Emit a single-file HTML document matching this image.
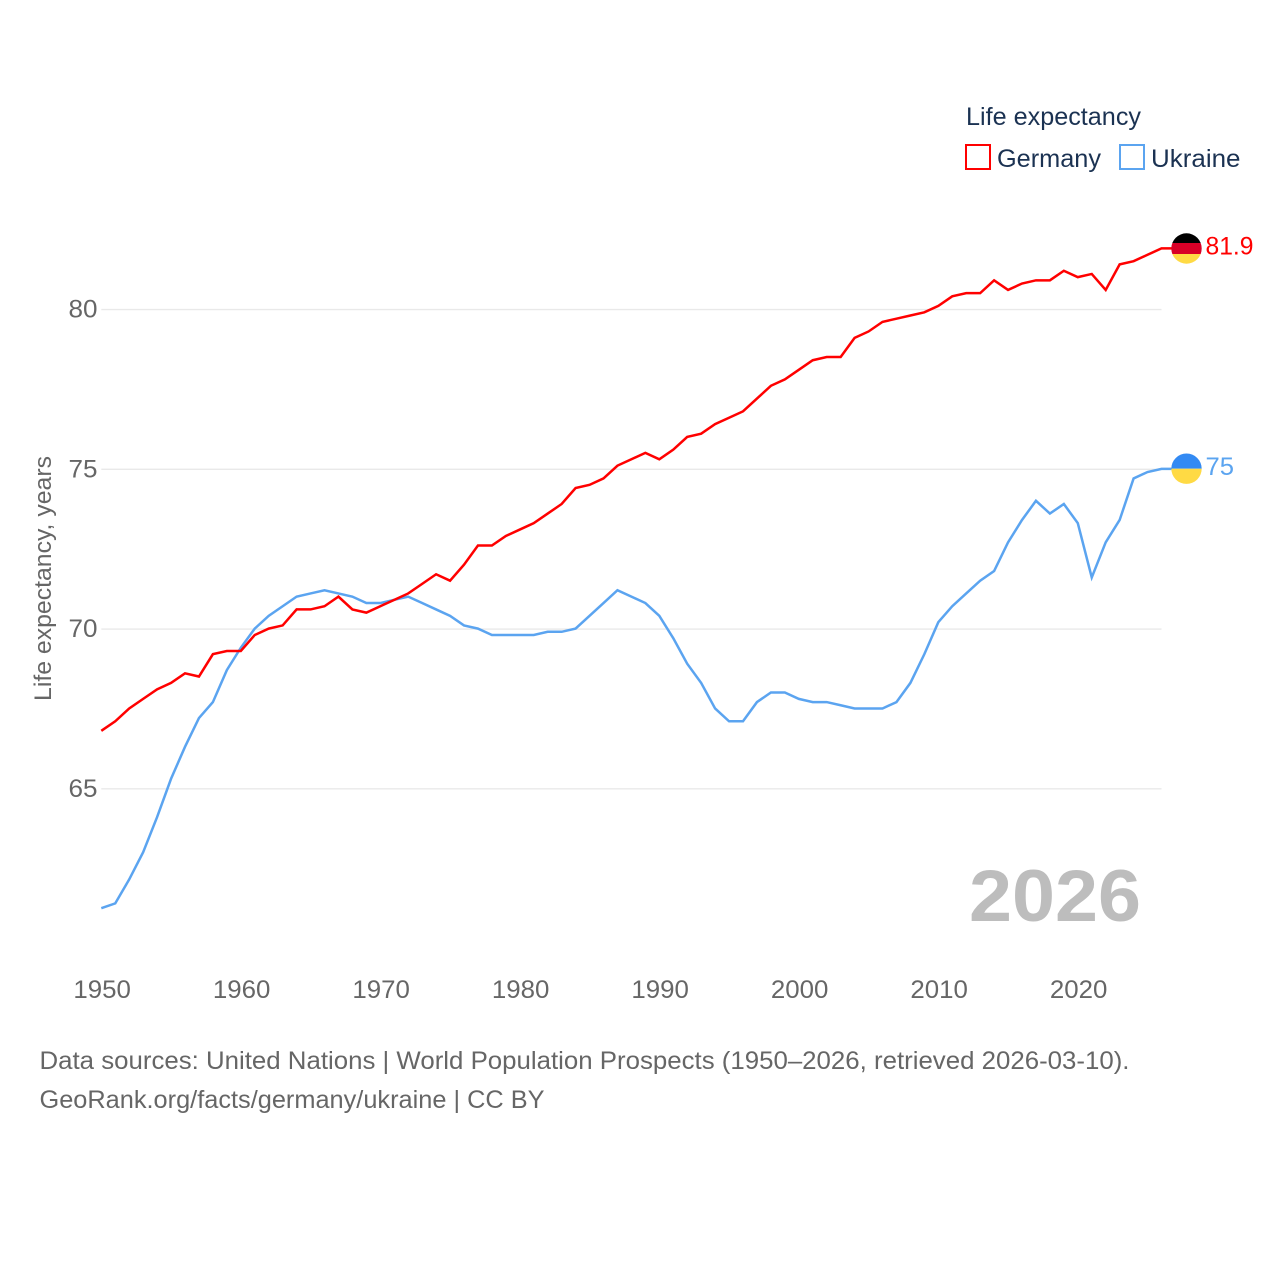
<!DOCTYPE html>
<html lang="en">
<head>
<meta charset="utf-8">
<title>Life expectancy: Germany and Ukraine</title>
<style>
html,body{margin:0;padding:0;background:#fff;width:1280px;height:1280px;overflow:hidden}
svg{display:block}
text{font-family:"Liberation Sans",sans-serif}
</style>
</head>
<body>
<svg id="chart" xmlns="http://www.w3.org/2000/svg" width="1280" height="1280" viewBox="0 0 1280 1280">
  <rect x="0" y="0" width="1280" height="1280" fill="#fff"/>
  <g id="grid"></g>
  <g id="yticks"></g>
  <g id="xticks"></g>
  <text transform="translate(51,578.5) rotate(-90)" text-anchor="middle" font-size="24.5" fill="#666" textLength="245" lengthAdjust="spacingAndGlyphs">Life expectancy, years</text>
  <text x="969" y="921" font-size="73" font-weight="bold" fill="#bdbdbd" textLength="172" lengthAdjust="spacingAndGlyphs">2026</text>
  <g id="series"></g>

  <g>
    <clipPath id="flag-de-clip"><circle cx="1186.5" cy="248.5" r="15.2"/></clipPath>
    <g clip-path="url(#flag-de-clip)">
      <rect x="1170" y="232" width="33" height="11" fill="#000"/>
      <rect x="1170" y="243" width="33" height="11" fill="#d80027"/>
      <rect x="1170" y="254" width="33" height="11" fill="#ffda44"/>
    </g>
  </g>
  <text x="1205.5" y="254.5" font-size="25" fill="#ff0000" textLength="48" lengthAdjust="spacingAndGlyphs">81.9</text>

  <g>
    <clipPath id="flag-ua-clip"><circle cx="1186.5" cy="468.7" r="15.2"/></clipPath>
    <g clip-path="url(#flag-ua-clip)">
      <rect x="1170" y="452" width="33" height="16.7" fill="#338af3"/>
      <rect x="1170" y="468.7" width="33" height="16.7" fill="#ffda44"/>
    </g>
  </g>
  <text x="1205.5" y="475" font-size="25" fill="#5ba4f0" textLength="28.5" lengthAdjust="spacingAndGlyphs">75</text>

  <g>
    <text x="966" y="125" font-size="25" fill="#1b3252" textLength="175" lengthAdjust="spacingAndGlyphs">Life expectancy</text>
    <g>
      <rect x="966" y="145" width="24" height="24" fill="#fff" stroke="#ff0000" stroke-width="2"/>
      <text x="997" y="167" font-size="25" fill="#1b3252" textLength="104" lengthAdjust="spacingAndGlyphs">Germany</text>
    </g>
    <g>
      <rect x="1120" y="145" width="24" height="24" fill="#fff" stroke="#5ba4f0" stroke-width="2"/>
      <text x="1151" y="167" font-size="25" fill="#1b3252" textLength="89.5" lengthAdjust="spacingAndGlyphs">Ukraine</text>
    </g>
  </g>

  <text x="39.5" y="1069" font-size="25" fill="#666" textLength="1090" lengthAdjust="spacingAndGlyphs">Data sources: United Nations | World Population Prospects (1950–2026, retrieved 2026-03-10).</text>
  <text x="39.5" y="1108" font-size="25" fill="#666" textLength="505" lengthAdjust="spacingAndGlyphs">GeoRank.org/facts/germany/ukraine | CC BY</text>
</svg>
<script>
const years = [1950,1951,1952,1953,1954,1955,1956,1957,1958,1959,1960,1961,1962,1963,1964,1965,1966,1967,1968,1969,1970,1971,1972,1973,1974,1975,1976,1977,1978,1979,1980,1981,1982,1983,1984,1985,1986,1987,1988,1989,1990,1991,1992,1993,1994,1995,1996,1997,1998,1999,2000,2001,2002,2003,2004,2005,2006,2007,2008,2009,2010,2011,2012,2013,2014,2015,2016,2017,2018,2019,2020,2021,2022,2023,2024,2025,2026];
const germany = [66.8,67.1,67.5,67.8,68.1,68.3,68.6,68.5,69.2,69.3,69.3,69.8,70.0,70.1,70.6,70.6,70.7,71.0,70.6,70.5,70.7,70.9,71.1,71.4,71.7,71.5,72.0,72.6,72.6,72.9,73.1,73.3,73.6,73.9,74.4,74.5,74.7,75.1,75.3,75.5,75.3,75.6,76.0,76.1,76.4,76.6,76.8,77.2,77.6,77.8,78.1,78.4,78.5,78.5,79.1,79.3,79.6,79.7,79.8,79.9,80.1,80.4,80.5,80.5,80.9,80.6,80.8,80.9,80.9,81.2,81.0,81.1,80.6,81.4,81.5,81.7,81.9];
const ukraine = [61.25,61.4,62.15,63.0,64.1,65.3,66.3,67.2,67.7,68.7,69.4,70.0,70.4,70.7,71.0,71.1,71.2,71.1,71.0,70.8,70.8,70.9,71.0,70.8,70.6,70.4,70.1,70.0,69.8,69.8,69.8,69.8,69.9,69.9,70.0,70.4,70.8,71.2,71.0,70.8,70.4,69.7,68.9,68.3,67.5,67.1,67.1,67.7,68.0,68.0,67.8,67.7,67.7,67.6,67.5,67.5,67.5,67.7,68.3,69.2,70.2,70.7,71.1,71.5,71.8,72.7,73.4,74.0,73.6,73.9,73.3,71.6,72.7,73.4,74.7,74.9,75.0];
const yTickValues = [65,70,75,80];
const xTickValues = [1950,1960,1970,1980,1990,2000,2010,2020];

const NS = 'http://www.w3.org/2000/svg';
const xScale = function (year) { return 101.3 + (year - 1950) * 13.95; };
const yScale = function (value) { return 309.1 + (80 - value) * 31.95; };

const gridGroup = document.getElementById('grid');
const yTickGroup = document.getElementById('yticks');
const xTickGroup = document.getElementById('xticks');
const seriesGroup = document.getElementById('series');

yTickValues.forEach(function (value) {
  const line = document.createElementNS(NS, 'line');
  
  
  line.setAttribute('x1', xScale(1950));
  line.setAttribute('x2', xScale(2026));
  line.setAttribute('y1', yScale(value) + 0.5);
  line.setAttribute('y2', yScale(value) + 0.5);
  line.setAttribute('stroke', '#e9e9e9');
  line.setAttribute('stroke-width', '1.4');
  gridGroup.appendChild(line);

  const label = document.createElementNS(NS, 'text');
  
  
  label.setAttribute('x', 97.5);
  label.setAttribute('y', yScale(value) + 8.6);
  label.setAttribute('text-anchor', 'end');
  label.setAttribute('font-size', '25');
  label.setAttribute('fill', '#666');
  label.setAttribute('textLength', '29');
  label.setAttribute('lengthAdjust', 'spacingAndGlyphs');
  label.textContent = value;
  yTickGroup.appendChild(label);
});

xTickValues.forEach(function (year) {
  const label = document.createElementNS(NS, 'text');
  
  
  label.setAttribute('x', xScale(year) + 0.8);
  label.setAttribute('y', 998);
  label.setAttribute('text-anchor', 'middle');
  label.setAttribute('font-size', '25');
  label.setAttribute('fill', '#666');
  label.setAttribute('textLength', '57.5');
  label.setAttribute('lengthAdjust', 'spacingAndGlyphs');
  label.textContent = year;
  xTickGroup.appendChild(label);
});

function linePoints(values) {
  return values.map(function (value, i) {
    return xScale(years[i]).toFixed(2) + ',' + yScale(value).toFixed(2);
  }).join(' ');
}

const germanyLine = document.createElementNS(NS, 'polyline');


germanyLine.setAttribute('points', linePoints(germany) + ' 1172,' + yScale(germany[germany.length - 1]).toFixed(2));
germanyLine.setAttribute('fill', 'none');
germanyLine.setAttribute('stroke', '#ff0000');
germanyLine.setAttribute('stroke-width', '2.5');
germanyLine.setAttribute('stroke-linejoin', 'miter');

const ukraineLine = document.createElementNS(NS, 'polyline');


ukraineLine.setAttribute('points', linePoints(ukraine) + ' 1172,' + yScale(ukraine[ukraine.length - 1]).toFixed(2));
ukraineLine.setAttribute('fill', 'none');
ukraineLine.setAttribute('stroke', '#5ba4f0');
ukraineLine.setAttribute('stroke-width', '2.5');
ukraineLine.setAttribute('stroke-linejoin', 'miter');

seriesGroup.appendChild(ukraineLine);
seriesGroup.appendChild(germanyLine);
</script>
</body>
</html>
